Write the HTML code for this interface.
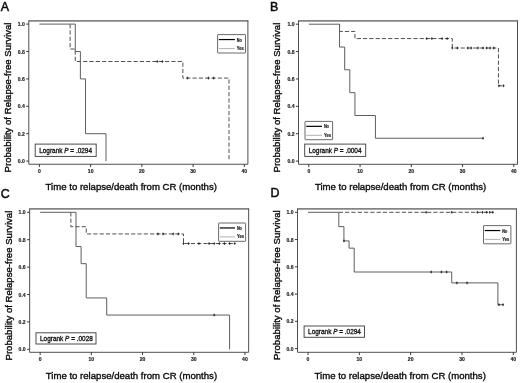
<!DOCTYPE html>
<html>
<head>
<meta charset="utf-8">
<title>Relapse-free survival</title>
<style>
html,body{margin:0;padding:0;background:#fff;}
body{width:520px;height:383px;overflow:hidden;font-family:"Liberation Sans",sans-serif;}
svg{display:block;will-change:transform;}
text{font-family:"Liberation Sans",sans-serif;fill:#111;}
.tk{font-size:5.1px;font-weight:bold;fill:#222;stroke:#222;stroke-width:0.15px;}
.lg{font-size:6.2px;font-weight:bold;fill:#111;stroke:#111;stroke-width:0.2px;}
.lr{font-size:6.45px;fill:#111;stroke:#111;stroke-width:0.3px;}
.ax{font-size:9.6px;fill:#0a0a0a;stroke:#0a0a0a;stroke-width:0.35px;}
.pl{font-size:12.4px;fill:#0a0a0a;stroke:#0a0a0a;stroke-width:0.5px;}
</style>
</head>
<body>
<svg width="520" height="383" viewBox="0 0 520 383">
<g>
<path d="M28.3 20.85H248.4" fill="none" stroke="#858585" stroke-width="1.65"/>
<path d="M28.8 20.85V164.25H247.9V20.85" fill="none" stroke="#505050" stroke-width="1"/>
<line x1="26.2" y1="161.1" x2="28.8" y2="161.1" stroke="#222" stroke-width="0.9"/>
<text x="24.8" y="163.1" class="tk" text-anchor="end">0.0</text>
<line x1="26.2" y1="133.7" x2="28.8" y2="133.7" stroke="#222" stroke-width="0.9"/>
<text x="24.8" y="135.7" class="tk" text-anchor="end">0.2</text>
<line x1="26.2" y1="106.3" x2="28.8" y2="106.3" stroke="#222" stroke-width="0.9"/>
<text x="24.8" y="108.3" class="tk" text-anchor="end">0.4</text>
<line x1="26.2" y1="78.9" x2="28.8" y2="78.9" stroke="#222" stroke-width="0.9"/>
<text x="24.8" y="80.9" class="tk" text-anchor="end">0.6</text>
<line x1="26.2" y1="51.5" x2="28.8" y2="51.5" stroke="#222" stroke-width="0.9"/>
<text x="24.8" y="53.5" class="tk" text-anchor="end">0.8</text>
<line x1="26.2" y1="24.1" x2="28.8" y2="24.1" stroke="#222" stroke-width="0.9"/>
<text x="24.8" y="26.1" class="tk" text-anchor="end">1.0</text>
<line x1="39.4" y1="164.25" x2="39.4" y2="167.05" stroke="#222" stroke-width="0.9"/>
<text x="39.4" y="173.15" class="tk" text-anchor="middle">0</text>
<line x1="90.64" y1="164.25" x2="90.64" y2="167.05" stroke="#222" stroke-width="0.9"/>
<text x="90.64" y="173.15" class="tk" text-anchor="middle">10</text>
<line x1="141.88" y1="164.25" x2="141.88" y2="167.05" stroke="#222" stroke-width="0.9"/>
<text x="141.88" y="173.15" class="tk" text-anchor="middle">20</text>
<line x1="193.12" y1="164.25" x2="193.12" y2="167.05" stroke="#222" stroke-width="0.9"/>
<text x="193.12" y="173.15" class="tk" text-anchor="middle">30</text>
<line x1="244.36" y1="164.25" x2="244.36" y2="167.05" stroke="#222" stroke-width="0.9"/>
<text x="244.36" y="173.15" class="tk" text-anchor="middle">40</text>
<path d="M70.14 24.1 H70.14 V49.03 H75.27 V61.5 H182.87 V78.08 H228.99 V161.1" fill="none" stroke="#484848" stroke-width="0.95" stroke-dasharray="4.2 2.1"/>
<path d="M39.4 24.1 H75.27 V51.5 H80.39 V78.9 H85.52 V133.7 H106.01 V161.1" fill="none" stroke="#5e5e5e" stroke-width="1"/>
<path d="M157.25 60.15V62.85M156.25 61.5H158.25" stroke="#222" stroke-width="0.85" fill="none"/>
<path d="M162.38 60.15V62.85M161.38 61.5H163.38" stroke="#222" stroke-width="0.85" fill="none"/>
<path d="M187.48 76.73V79.43M186.48 78.08H188.48" stroke="#222" stroke-width="0.85" fill="none"/>
<path d="M208.49 76.73V79.43M207.49 78.08H209.49" stroke="#222" stroke-width="0.85" fill="none"/>
<path d="M213.62 76.73V79.43M212.62 78.08H214.62" stroke="#222" stroke-width="0.85" fill="none"/>
<rect x="217.6" y="34.6" width="27.9" height="18.4" rx="0.5" fill="#fff" stroke="#5a5a5a" stroke-width="0.9"/>
<line x1="218.8" y1="39.55" x2="234.9" y2="39.55" stroke="#000" stroke-width="1.2"/>
<line x1="218.8" y1="48.6" x2="234.9" y2="48.6" stroke="#909090" stroke-width="0.7"/>
<text x="236.8" y="41.55" class="lg" textLength="5" lengthAdjust="spacingAndGlyphs">No</text>
<text x="236.8" y="50.1" class="lg" textLength="7.0" lengthAdjust="spacingAndGlyphs">Yes</text>
<rect x="35.2" y="144.1" width="61" height="12.3" fill="#fff" stroke="#444" stroke-width="0.95"/>
<text x="39.2" y="152.55" class="lr">Logrank <tspan font-style="italic">P</tspan> = .0294</text>
<text x="45.6" y="190.4" class="ax">Time to relapse/death from CR (months)</text>
<text transform="translate(10.6 97.5) rotate(-90)" class="ax" text-anchor="middle">Probability of Relapse-free Survival</text>
<text x="0.8" y="10.6" class="pl">A</text>
</g>
<g>
<path d="M298 20.8H518" fill="none" stroke="#858585" stroke-width="1.65"/>
<path d="M298.5 20.8V164.3H517.5V20.8" fill="none" stroke="#505050" stroke-width="1"/>
<line x1="295.9" y1="161.1" x2="298.5" y2="161.1" stroke="#222" stroke-width="0.9"/>
<text x="294.5" y="163.1" class="tk" text-anchor="end">0.0</text>
<line x1="295.9" y1="133.72" x2="298.5" y2="133.72" stroke="#222" stroke-width="0.9"/>
<text x="294.5" y="135.72" class="tk" text-anchor="end">0.2</text>
<line x1="295.9" y1="106.34" x2="298.5" y2="106.34" stroke="#222" stroke-width="0.9"/>
<text x="294.5" y="108.34" class="tk" text-anchor="end">0.4</text>
<line x1="295.9" y1="78.96" x2="298.5" y2="78.96" stroke="#222" stroke-width="0.9"/>
<text x="294.5" y="80.96" class="tk" text-anchor="end">0.6</text>
<line x1="295.9" y1="51.58" x2="298.5" y2="51.58" stroke="#222" stroke-width="0.9"/>
<text x="294.5" y="53.58" class="tk" text-anchor="end">0.8</text>
<line x1="295.9" y1="24.2" x2="298.5" y2="24.2" stroke="#222" stroke-width="0.9"/>
<text x="294.5" y="26.2" class="tk" text-anchor="end">1.0</text>
<line x1="308.8" y1="164.3" x2="308.8" y2="167.1" stroke="#222" stroke-width="0.9"/>
<text x="308.8" y="173.2" class="tk" text-anchor="middle">0</text>
<line x1="360.05" y1="164.3" x2="360.05" y2="167.1" stroke="#222" stroke-width="0.9"/>
<text x="360.05" y="173.2" class="tk" text-anchor="middle">10</text>
<line x1="411.3" y1="164.3" x2="411.3" y2="167.1" stroke="#222" stroke-width="0.9"/>
<text x="411.3" y="173.2" class="tk" text-anchor="middle">20</text>
<line x1="462.55" y1="164.3" x2="462.55" y2="167.1" stroke="#222" stroke-width="0.9"/>
<text x="462.55" y="173.2" class="tk" text-anchor="middle">30</text>
<line x1="513.8" y1="164.3" x2="513.8" y2="167.1" stroke="#222" stroke-width="0.9"/>
<text x="513.8" y="173.2" class="tk" text-anchor="middle">40</text>
<path d="M339.55 24.2 H339.55 V31.46 H354.93 V38.57 H452.3 V48.02 H498.43 V85.8 H503.55" fill="none" stroke="#484848" stroke-width="0.95" stroke-dasharray="4.2 2.1"/>
<path d="M308.8 24.2 H339.55 V47.06 H344.68 V69.79 H349.8 V92.65 H354.93 V115.51 H375.43 V138.24 H483.05" fill="none" stroke="#5e5e5e" stroke-width="1"/>
<path d="M483.05 136.89V139.59M482.05 138.24H484.05" stroke="#222" stroke-width="0.85" fill="none"/>
<path d="M426.68 37.22V39.92M425.68 38.57H427.68" stroke="#222" stroke-width="0.85" fill="none"/>
<path d="M431.8 37.22V39.92M430.8 38.57H432.8" stroke="#222" stroke-width="0.85" fill="none"/>
<path d="M442.05 37.22V39.92M441.05 38.57H443.05" stroke="#222" stroke-width="0.85" fill="none"/>
<path d="M447.18 37.22V39.92M446.18 38.57H448.18" stroke="#222" stroke-width="0.85" fill="none"/>
<path d="M452.3 46.67V49.37M451.3 48.02H453.3" stroke="#222" stroke-width="0.85" fill="none"/>
<path d="M457.43 46.67V49.37M456.43 48.02H458.43" stroke="#222" stroke-width="0.85" fill="none"/>
<path d="M467.68 46.67V49.37M466.68 48.02H468.68" stroke="#222" stroke-width="0.85" fill="none"/>
<path d="M471.26 46.67V49.37M470.26 48.02H472.26" stroke="#222" stroke-width="0.85" fill="none"/>
<path d="M477.93 46.67V49.37M476.93 48.02H478.93" stroke="#222" stroke-width="0.85" fill="none"/>
<path d="M483.05 46.67V49.37M482.05 48.02H484.05" stroke="#222" stroke-width="0.85" fill="none"/>
<path d="M486.64 46.67V49.37M485.64 48.02H487.64" stroke="#222" stroke-width="0.85" fill="none"/>
<path d="M490.23 46.67V49.37M489.23 48.02H491.23" stroke="#222" stroke-width="0.85" fill="none"/>
<path d="M493.81 46.67V49.37M492.81 48.02H494.81" stroke="#222" stroke-width="0.85" fill="none"/>
<path d="M498.94 84.45V87.15M497.94 85.8H499.94" stroke="#222" stroke-width="0.85" fill="none"/>
<path d="M503.55 84.45V87.15M502.55 85.8H504.55" stroke="#222" stroke-width="0.85" fill="none"/>
<rect x="305" y="121.4" width="27.6" height="18.3" rx="0.5" fill="#fff" stroke="#5a5a5a" stroke-width="0.9"/>
<line x1="306.2" y1="126.35" x2="322" y2="126.35" stroke="#000" stroke-width="1.2"/>
<line x1="306.2" y1="135.3" x2="322" y2="135.3" stroke="#909090" stroke-width="0.7"/>
<text x="323.9" y="128.35" class="lg" textLength="5" lengthAdjust="spacingAndGlyphs">No</text>
<text x="323.9" y="136.8" class="lg" textLength="7.0" lengthAdjust="spacingAndGlyphs">Yes</text>
<rect x="304.7" y="144.1" width="61" height="12.3" fill="#fff" stroke="#444" stroke-width="0.95"/>
<text x="308.7" y="152.55" class="lr">Logrank <tspan font-style="italic">P</tspan> = .0004</text>
<text x="314.9" y="190.4" class="ax">Time to relapse/death from CR (months)</text>
<text transform="translate(280.4 97.6) rotate(-90)" class="ax" text-anchor="middle">Probability of Relapse-free Survival</text>
<text x="270.1" y="10.7" class="pl">B</text>
</g>
<g>
<path d="M29.15 208.8H249.15" fill="none" stroke="#858585" stroke-width="1.65"/>
<path d="M29.65 208.8V352.3H248.65V208.8" fill="none" stroke="#505050" stroke-width="1"/>
<line x1="27.05" y1="349.3" x2="29.65" y2="349.3" stroke="#222" stroke-width="0.9"/>
<text x="25.65" y="351.3" class="tk" text-anchor="end">0.0</text>
<line x1="27.05" y1="321.9" x2="29.65" y2="321.9" stroke="#222" stroke-width="0.9"/>
<text x="25.65" y="323.9" class="tk" text-anchor="end">0.2</text>
<line x1="27.05" y1="294.5" x2="29.65" y2="294.5" stroke="#222" stroke-width="0.9"/>
<text x="25.65" y="296.5" class="tk" text-anchor="end">0.4</text>
<line x1="27.05" y1="267.1" x2="29.65" y2="267.1" stroke="#222" stroke-width="0.9"/>
<text x="25.65" y="269.1" class="tk" text-anchor="end">0.6</text>
<line x1="27.05" y1="239.7" x2="29.65" y2="239.7" stroke="#222" stroke-width="0.9"/>
<text x="25.65" y="241.7" class="tk" text-anchor="end">0.8</text>
<line x1="27.05" y1="212.3" x2="29.65" y2="212.3" stroke="#222" stroke-width="0.9"/>
<text x="25.65" y="214.3" class="tk" text-anchor="end">1.0</text>
<line x1="40.15" y1="352.3" x2="40.15" y2="355.1" stroke="#222" stroke-width="0.9"/>
<text x="40.15" y="361.2" class="tk" text-anchor="middle">0</text>
<line x1="91.35" y1="352.3" x2="91.35" y2="355.1" stroke="#222" stroke-width="0.9"/>
<text x="91.35" y="361.2" class="tk" text-anchor="middle">10</text>
<line x1="142.55" y1="352.3" x2="142.55" y2="355.1" stroke="#222" stroke-width="0.9"/>
<text x="142.55" y="361.2" class="tk" text-anchor="middle">20</text>
<line x1="193.75" y1="352.3" x2="193.75" y2="355.1" stroke="#222" stroke-width="0.9"/>
<text x="193.75" y="361.2" class="tk" text-anchor="middle">30</text>
<line x1="244.95" y1="352.3" x2="244.95" y2="355.1" stroke="#222" stroke-width="0.9"/>
<text x="244.95" y="361.2" class="tk" text-anchor="middle">40</text>
<path d="M70.87 212.3 H70.87 V226.69 H86.23 V233.95 H183.51 V243.54 H234.71" fill="none" stroke="#484848" stroke-width="0.95" stroke-dasharray="4.2 2.1"/>
<path d="M40.15 212.3 H75.99 V246.55 H81.11 V263.68 H86.23 V297.93 H106.71 V315.05 H229.59 V349.3" fill="none" stroke="#5e5e5e" stroke-width="1"/>
<path d="M214.23 313.7V316.4M213.23 315.05H215.23" stroke="#222" stroke-width="0.85" fill="none"/>
<path d="M157.91 232.6V235.3M156.91 233.95H158.91" stroke="#222" stroke-width="0.85" fill="none"/>
<path d="M163.03 232.6V235.3M162.03 233.95H164.03" stroke="#222" stroke-width="0.85" fill="none"/>
<path d="M173.27 232.6V235.3M172.27 233.95H174.27" stroke="#222" stroke-width="0.85" fill="none"/>
<path d="M178.39 232.6V235.3M177.39 233.95H179.39" stroke="#222" stroke-width="0.85" fill="none"/>
<path d="M183.51 242.19V244.89M182.51 243.54H184.51" stroke="#222" stroke-width="0.85" fill="none"/>
<path d="M188.63 242.19V244.89M187.63 243.54H189.63" stroke="#222" stroke-width="0.85" fill="none"/>
<path d="M198.87 242.19V244.89M197.87 243.54H199.87" stroke="#222" stroke-width="0.85" fill="none"/>
<path d="M209.11 242.19V244.89M208.11 243.54H210.11" stroke="#222" stroke-width="0.85" fill="none"/>
<path d="M214.23 242.19V244.89M213.23 243.54H215.23" stroke="#222" stroke-width="0.85" fill="none"/>
<path d="M219.35 242.19V244.89M218.35 243.54H220.35" stroke="#222" stroke-width="0.85" fill="none"/>
<path d="M224.47 242.19V244.89M223.47 243.54H225.47" stroke="#222" stroke-width="0.85" fill="none"/>
<path d="M229.59 242.19V244.89M228.59 243.54H230.59" stroke="#222" stroke-width="0.85" fill="none"/>
<path d="M234.71 242.19V244.89M233.71 243.54H235.71" stroke="#222" stroke-width="0.85" fill="none"/>
<rect x="218.6" y="223" width="27" height="18.3" rx="0.5" fill="#fff" stroke="#5a5a5a" stroke-width="0.9"/>
<line x1="219.8" y1="227.95" x2="235" y2="227.95" stroke="#000" stroke-width="1.2"/>
<line x1="219.8" y1="236.9" x2="235" y2="236.9" stroke="#909090" stroke-width="0.7"/>
<text x="236.9" y="229.95" class="lg" textLength="5" lengthAdjust="spacingAndGlyphs">No</text>
<text x="236.9" y="238.4" class="lg" textLength="7.0" lengthAdjust="spacingAndGlyphs">Yes</text>
<rect x="36" y="332.8" width="60" height="11.2" fill="#fff" stroke="#444" stroke-width="0.95"/>
<text x="40" y="340.7" class="lr">Logrank <tspan font-style="italic">P</tspan> = .0028</text>
<text x="45.75" y="378.6" class="ax">Time to relapse/death from CR (months)</text>
<text transform="translate(11.65 285.6) rotate(-90)" class="ax" text-anchor="middle">Probability of Relapse-free Survival</text>
<text x="0.7" y="198" class="pl">C</text>
</g>
<g>
<path d="M297 208.8H516.9" fill="none" stroke="#858585" stroke-width="1.65"/>
<path d="M297.5 208.8V352.3H516.4V208.8" fill="none" stroke="#505050" stroke-width="1"/>
<line x1="294.9" y1="348.6" x2="297.5" y2="348.6" stroke="#222" stroke-width="0.9"/>
<text x="293.5" y="350.6" class="tk" text-anchor="end">0.0</text>
<line x1="294.9" y1="321.34" x2="297.5" y2="321.34" stroke="#222" stroke-width="0.9"/>
<text x="293.5" y="323.34" class="tk" text-anchor="end">0.2</text>
<line x1="294.9" y1="294.08" x2="297.5" y2="294.08" stroke="#222" stroke-width="0.9"/>
<text x="293.5" y="296.08" class="tk" text-anchor="end">0.4</text>
<line x1="294.9" y1="266.82" x2="297.5" y2="266.82" stroke="#222" stroke-width="0.9"/>
<text x="293.5" y="268.82" class="tk" text-anchor="end">0.6</text>
<line x1="294.9" y1="239.56" x2="297.5" y2="239.56" stroke="#222" stroke-width="0.9"/>
<text x="293.5" y="241.56" class="tk" text-anchor="end">0.8</text>
<line x1="294.9" y1="212.3" x2="297.5" y2="212.3" stroke="#222" stroke-width="0.9"/>
<text x="293.5" y="214.3" class="tk" text-anchor="end">1.0</text>
<line x1="308" y1="352.3" x2="308" y2="355.1" stroke="#222" stroke-width="0.9"/>
<text x="308" y="361.2" class="tk" text-anchor="middle">0</text>
<line x1="359.33" y1="352.3" x2="359.33" y2="355.1" stroke="#222" stroke-width="0.9"/>
<text x="359.33" y="361.2" class="tk" text-anchor="middle">10</text>
<line x1="410.66" y1="352.3" x2="410.66" y2="355.1" stroke="#222" stroke-width="0.9"/>
<text x="410.66" y="361.2" class="tk" text-anchor="middle">20</text>
<line x1="461.99" y1="352.3" x2="461.99" y2="355.1" stroke="#222" stroke-width="0.9"/>
<text x="461.99" y="361.2" class="tk" text-anchor="middle">30</text>
<line x1="513.32" y1="352.3" x2="513.32" y2="355.1" stroke="#222" stroke-width="0.9"/>
<text x="513.32" y="361.2" class="tk" text-anchor="middle">40</text>
<path d="M338.8 212.3 H492.79" fill="none" stroke="#484848" stroke-width="0.95" stroke-dasharray="4.2 2.1"/>
<path d="M308 212.3 H338.8 V226.61 H343.93 V240.92 H349.06 V248.15 H354.2 V272 H451.72 V282.9 H497.92 V304.71 H503.05" fill="none" stroke="#5e5e5e" stroke-width="1"/>
<path d="M343.93 239.57V242.27M342.93 240.92H344.93" stroke="#222" stroke-width="0.85" fill="none"/>
<path d="M431.19 270.65V273.35M430.19 272H432.19" stroke="#222" stroke-width="0.85" fill="none"/>
<path d="M441.46 270.65V273.35M440.46 272H442.46" stroke="#222" stroke-width="0.85" fill="none"/>
<path d="M446.59 270.65V273.35M445.59 272H447.59" stroke="#222" stroke-width="0.85" fill="none"/>
<path d="M456.86 281.55V284.25M455.86 282.9H457.86" stroke="#222" stroke-width="0.85" fill="none"/>
<path d="M467.12 281.55V284.25M466.12 282.9H468.12" stroke="#222" stroke-width="0.85" fill="none"/>
<path d="M498.95 303.36V306.06M497.95 304.71H499.95" stroke="#222" stroke-width="0.85" fill="none"/>
<path d="M503.05 303.36V306.06M502.05 304.71H504.05" stroke="#222" stroke-width="0.85" fill="none"/>
<path d="M426.06 210.95V213.65M425.06 212.3H427.06" stroke="#222" stroke-width="0.85" fill="none"/>
<path d="M451.72 210.95V213.65M450.72 212.3H452.72" stroke="#222" stroke-width="0.85" fill="none"/>
<path d="M477.39 210.95V213.65M476.39 212.3H478.39" stroke="#222" stroke-width="0.85" fill="none"/>
<path d="M482.52 210.95V213.65M481.52 212.3H483.52" stroke="#222" stroke-width="0.85" fill="none"/>
<path d="M486.63 210.95V213.65M485.63 212.3H487.63" stroke="#222" stroke-width="0.85" fill="none"/>
<path d="M489.71 210.95V213.65M488.71 212.3H490.71" stroke="#222" stroke-width="0.85" fill="none"/>
<path d="M492.79 210.95V213.65M491.79 212.3H493.79" stroke="#222" stroke-width="0.85" fill="none"/>
<rect x="483.5" y="225.6" width="27.4" height="18.2" rx="0.5" fill="#fff" stroke="#5a5a5a" stroke-width="0.9"/>
<line x1="484.7" y1="230.55" x2="500.3" y2="230.55" stroke="#000" stroke-width="1.2"/>
<line x1="484.7" y1="239.4" x2="500.3" y2="239.4" stroke="#909090" stroke-width="0.7"/>
<text x="502.2" y="232.55" class="lg" textLength="5" lengthAdjust="spacingAndGlyphs">No</text>
<text x="502.2" y="240.9" class="lg" textLength="7.0" lengthAdjust="spacingAndGlyphs">Yes</text>
<rect x="304.1" y="326" width="60.4" height="11.3" fill="#fff" stroke="#444" stroke-width="0.95"/>
<text x="308.1" y="333.95" class="lr">Logrank <tspan font-style="italic">P</tspan> = .0294</text>
<text x="314.5" y="378.6" class="ax">Time to relapse/death from CR (months)</text>
<text transform="translate(279.9 285.2) rotate(-90)" class="ax" text-anchor="middle">Probability of Relapse-free Survival</text>
<text x="270.4" y="197.4" class="pl">D</text>
</g>
</svg>
</body>
</html>
